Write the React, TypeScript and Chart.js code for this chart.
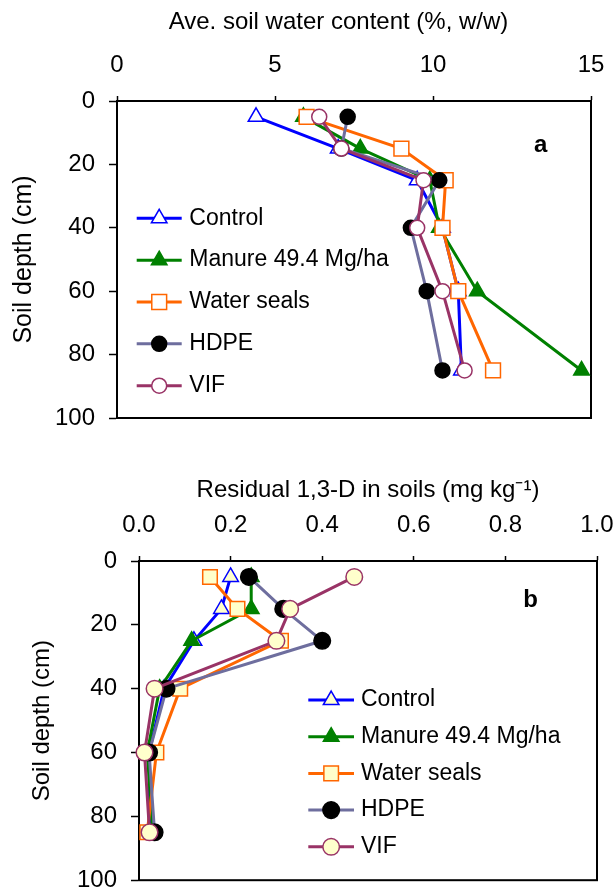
import React, { useEffect, useRef } from 'react';
import { Chart, registerables } from 'chart.js';

Chart.register(...registerables);

// ---------------- data ----------------
const DEPTHS = [5, 15, 25, 40, 60, 85];
const SERIES = ['Control', 'Manure 49.4 Mg/ha', 'Water seals', 'HDPE', 'VIF'];

// Panel a: average soil water content (%, w/w)
const WATER_CONTROL = [4.4, 7.0, 9.5, 10.3, 10.8, 10.9];
const WATER_MANURE = [5.9, 7.7, 9.9, 10.2, 11.4, 14.7];
const WATER_SEALS = [6.0, 9.0, 10.4, 10.3, 10.8, 11.9];
const WATER_HDPE = [7.3, 7.1, 10.2, 9.3, 9.8, 10.3];
const WATER_VIF = [6.4, 7.1, 9.7, 9.5, 10.3, 11.0];

// Panel b: residual 1,3-D in soils (mg/kg)
const RES_CONTROL = [0.2, 0.18, 0.12, 0.055, 0.022, 0.023];
const RES_MANURE = [0.245, 0.245, 0.115, 0.045, 0.018, 0.03];
const RES_SEALS = [0.155, 0.215, 0.31, 0.09, 0.038, 0.018];
const RES_HDPE = [0.24, 0.315, 0.4, 0.06, 0.022, 0.034];
const RES_VIF = [0.47, 0.33, 0.3, 0.034, 0.012, 0.023];

const X_TICKS_A = [0, 5, 10, 15];
const X_TICKS_B = [0, 0.2, 0.4, 0.6, 0.8, 1.0];
const Y_TICKS = [0, 20, 40, 60, 80, 100];

const TITLE_A_X = 'Ave. soil water content (%, w/w)';
const TITLE_B_X = 'Residual 1,3-D in soils (mg kg\u207B\u00B9)';
const TITLE_Y = 'Soil depth (cm)';

// ---------------- styles ----------------
const FONT = "'Liberation Sans', Arial, Helvetica, sans-serif";

const MARKERS_A = [
  { line: '#0000FF', shape: 'triangle', fill: '#FFFFFF', stroke: '#0000FF', r: 9 },
  { line: '#008000', shape: 'triangle', fill: '#008000', stroke: '#008000', r: 9 },
  { line: '#FF6600', shape: 'rect', fill: '#FFFFFF', stroke: '#FF6600', r: 10.5 },
  { line: '#6E6E9E', shape: 'circle', fill: '#000000', stroke: '#000000', r: 7.5 },
  { line: '#993366', shape: 'circle', fill: '#FFFFFF', stroke: '#993366', r: 7.5 },
];
const MARKERS_B = [
  { line: '#0000FF', shape: 'triangle', fill: '#FFFFCC', stroke: '#0000FF', r: 9 },
  { line: '#008000', shape: 'triangle', fill: '#008000', stroke: '#008000', r: 9 },
  { line: '#FF6600', shape: 'rect', fill: '#FFFFCC', stroke: '#FF6600', r: 10.3 },
  { line: '#6E6E9E', shape: 'circle', fill: '#000000', stroke: '#000000', r: 8.3 },
  { line: '#993366', shape: 'circle', fill: '#FFFFCC', stroke: '#993366', r: 8.3 },
];

function drawMarker(ctx, m, x, y) {
  ctx.save();
  ctx.beginPath();
  if (m.shape === 'circle') {
    ctx.arc(x, y, m.r, 0, Math.PI * 2);
  } else if (m.shape === 'rect') {
    const s = m.r * Math.SQRT1_2;
    ctx.rect(x - s, y - s, 2 * s, 2 * s);
  } else {
    let rad = 0;
    const t = (2 * Math.PI) / 3;
    ctx.moveTo(x + Math.sin(rad) * m.r, y - Math.cos(rad) * m.r);
    rad += t;
    ctx.lineTo(x + Math.sin(rad) * m.r, y - Math.cos(rad) * m.r);
    rad += t;
    ctx.lineTo(x + Math.sin(rad) * m.r, y - Math.cos(rad) * m.r);
    ctx.closePath();
  }
  ctx.fillStyle = m.fill;
  ctx.fill();
  ctx.lineWidth = 1.5;
  ctx.strokeStyle = m.stroke;
  ctx.stroke();
  ctx.restore();
}

function extrasPlugin(p) {
  return {
    id: 'extras_' + p.key,
    beforeDatasetsDraw(chart) {
      const { ctx, chartArea: a } = chart;
      ctx.save();
      ctx.strokeStyle = '#000';
      ctx.lineWidth = 2;
      ctx.strokeRect(a.left, a.top, a.right - a.left, a.bottom - a.top);
      ctx.restore();
    },
    afterDatasetsDraw(chart) {
      const { ctx, chartArea: a } = chart;
      ctx.save();
      const L = p.legend;
      chart.data.datasets.forEach((ds, i) => {
        const m = p.markers[i];
        const y = a.top + L.top + i * L.gap;
        const x0 = a.left + L.left;
        ctx.strokeStyle = m.line;
        ctx.lineWidth = 3;
        ctx.beginPath();
        ctx.moveTo(x0, y);
        ctx.lineTo(x0 + L.lineLen, y);
        ctx.stroke();
        drawMarker(ctx, m, x0 + L.lineLen / 2, y);
        ctx.fillStyle = '#000';
        ctx.font = `${L.fontSize}px ${FONT}`;
        ctx.textAlign = 'left';
        ctx.textBaseline = 'middle';
        ctx.fillText(ds.label, x0 + L.textDx, y);
      });
      ctx.fillStyle = '#000';
      ctx.font = `bold 24px ${FONT}`;
      ctx.textAlign = 'center';
      ctx.textBaseline = 'middle';
      ctx.fillText(p.letter, a.left + p.letterDx, a.top + p.letterDy);
      if (p.xTitle) {
        ctx.font = `${p.xTitle.size}px ${FONT}`;
        ctx.fillText(p.xTitle.text, p.xTitle.x, p.xTitle.y);
      }
      ctx.restore();
    },
  };
}

function buildConfig(p) {
  const datasets = p.values.map((vals, i) => {
    const m = p.markers[i];
    return {
      label: SERIES[i],
      data: vals.map((v, k) => ({ x: v, y: DEPTHS[k] })),
      showLine: true,
      borderColor: m.line,
      backgroundColor: m.fill,
      borderWidth: 3,
      pointStyle: m.shape,
      pointRadius: m.r,
      pointHoverRadius: m.r,
      pointBackgroundColor: m.fill,
      pointBorderColor: m.stroke,
      pointBorderWidth: 1.5,
      tension: 0,
      clip: false,
      order: p.values.length - 1 - i,
    };
  });
  return {
    type: 'scatter',
    data: { datasets },
    options: {
      responsive: false,
      animation: false,
      events: [],
      layout: { padding: { left: 0, top: 0, right: p.padRight, bottom: p.padBottom } },
      plugins: {
        legend: { display: false },
        tooltip: { enabled: false },
        title: { display: false },
      },
      scales: {
        x: {
          type: 'linear',
          position: 'top',
          min: p.xTicks[0],
          max: p.xTicks[p.xTicks.length - 1],
          afterBuildTicks: (s) => {
            s.ticks = p.xTicks.map((v) => ({ value: v }));
          },
          ticks: {
            font: { family: FONT, size: 24 },
            color: '#000',
            padding: p.xTickPad,
            maxRotation: 0,
            autoSkip: false,
            callback: p.xFmt,
          },
          grid: {
            display: true,
            drawOnChartArea: false,
            drawTicks: true,
            tickLength: 5,
            tickWidth: 1.5,
            tickColor: '#000',
          },
          border: { display: true, color: '#000', width: 2 },
          title: p.xScaleTitle
            ? {
                display: true,
                text: p.xScaleTitle,
                color: '#000',
                font: { family: FONT, size: 24 },
                padding: { top: p.xTitlePad, bottom: 0 },
              }
            : { display: false },
          afterFit: (s) => {
            s.height = p.plotTop;
            s.paddingLeft = 0;
            s.paddingRight = 0;
          },
        },
        y: {
          type: 'linear',
          position: 'left',
          reverse: true,
          min: 0,
          max: 100,
          afterBuildTicks: (s) => {
            s.ticks = Y_TICKS.map((v) => ({ value: v }));
          },
          ticks: {
            font: { family: FONT, size: 24 },
            color: '#000',
            padding: 14,
            autoSkip: false,
          },
          grid: {
            display: true,
            drawOnChartArea: false,
            drawTicks: true,
            tickLength: 8,
            tickWidth: 1.5,
            tickColor: '#000',
          },
          border: { display: true, color: '#000', width: 2 },
          title: {
            display: true,
            text: TITLE_Y,
            color: '#000',
            font: { family: FONT, size: p.yTitleSize },
            padding: { top: p.yTitlePad, bottom: 0 },
          },
          afterFit: (s) => {
            s.width = p.plotLeft;
            s.paddingTop = 0;
            s.paddingBottom = 0;
          },
        },
      },
    },
    plugins: [extrasPlugin(p)],
  };
}

const PANEL_A = {
  key: 'a',
  values: [WATER_CONTROL, WATER_MANURE, WATER_SEALS, WATER_HDPE, WATER_VIF],
  markers: MARKERS_A,
  xTicks: X_TICKS_A,
  xFmt: (v) => String(v),
  xScaleTitle: null,
  xTitle: { text: TITLE_A_X, x: 338.5, y: 22, size: 24 },
  xTitlePad: 0,
  xTickPad: 16,
  plotTop: 101,
  plotLeft: 117,
  padRight: 22,
  padBottom: 32,
  yTitleSize: 25,
  yTitlePad: 9,
  legend: { left: 19.7, top: 117.3, gap: 41.85, lineLen: 45, textDx: 52.6, fontSize: 23 },
  letter: 'a',
  letterDx: 423.7,
  letterDy: 44,
};

const PANEL_B = {
  key: 'b',
  values: [RES_CONTROL, RES_MANURE, RES_SEALS, RES_HDPE, RES_VIF],
  markers: MARKERS_B,
  xTicks: X_TICKS_B,
  xFmt: (v) => Number(v).toFixed(1),
  xScaleTitle: TITLE_B_X,
  xTitle: null,
  xTitlePad: 25.6,
  xTickPad: 16.6,
  plotTop: 111,
  plotLeft: 139,
  padRight: 16,
  padBottom: 10,
  yTitleSize: 24,
  yTitlePad: 27.6,
  legend: { left: 169.3, top: 139, gap: 36.7, lineLen: 45.7, textDx: 52.7, fontSize: 23 },
  letter: 'b',
  letterDx: 391.7,
  letterDy: 39,
};

function Panel({ panel, top, height }) {
  const ref = useRef(null);
  useEffect(() => {
    const chart = new Chart(ref.current, buildConfig(panel));
    return () => chart.destroy();
  }, [panel]);
  return (
    <canvas
      ref={ref}
      width={613}
      height={height}
      style={{ position: 'absolute', left: 0, top, width: 613, height, display: 'block' }}
    />
  );
}

export default function App() {
  return (
    <div style={{ position: 'absolute', left: 0, top: 0, width: 613, height: 892, background: '#fff' }}>
      <Panel panel={PANEL_A} top={0} height={450} />
      <Panel panel={PANEL_B} top={450} height={442} />
    </div>
  );
}
